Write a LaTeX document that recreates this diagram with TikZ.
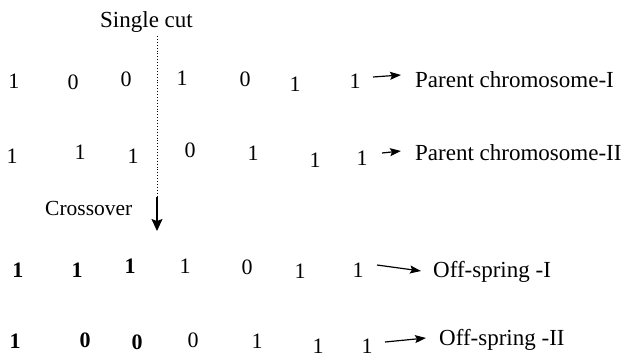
\documentclass[tikz,border=0pt]{standalone}
\usepackage{fontspec}
\setmainfont{Liberation Serif}
\usetikzlibrary{arrows.meta}
\begin{document}
\begin{tikzpicture}[x=1pt,y=-1pt,
  bit/.style={inner sep=0pt, anchor=base, font=\fontsize{22}{24}\selectfont},
  bbit/.style={bit, font=\fontsize{22}{24}\selectfont\bfseries},
  lbl/.style={inner sep=0pt, anchor=base west, font=\fontsize{23}{26}\selectfont},
  arr/.style={line width=1.2pt, -{Stealth[length=11pt,width=8pt,inset=2pt]}},
  cutarr/.style={line width=1.2pt, -{Stealth[length=12pt,width=11pt,inset=2pt]}},
  cutline/.style={line width=0.9pt, dotted}]
\useasboundingbox (0,0) rectangle (622,357);

% titles
\node[lbl] (single) at (100,27) {Single cut};
\node[lbl, font=\fontsize{21.5}{24}\selectfont] (cross) at (45,215) {Crossover};

% cut line
\coordinate (cutTop) at (157,36);
\coordinate (cutMid) at (157,197);
\coordinate (cutEnd) at (157,231);
\draw[cutline] (cutTop) -- (cutMid);
\draw[cutarr] (cutMid) -- (cutEnd);

% row 1
\node[bit] (a1) at (14,88) {1};
\node[bit] (a2) at (73,89) {0};
\node[bit] (a3) at (126,86) {0};
\node[bit] (a4) at (182,85) {1};
\node[bit] (a5) at (245,86) {0};
\node[bit] (a6) at (295,91) {1};
\node[bit] (a7) at (355,88) {1};
\node[lbl] (pa) at (415,87) {Parent chromosome-I};
\coordinate (pas) at (373,77);
\coordinate (pae) at (401,75);
\draw[arr] (pas) -- (pae);

% row 2
\node[bit] (b1) at (12,163) {1};
\node[bit] (b2) at (80,159) {1};
\node[bit] (b3) at (133,163) {1};
\node[bit] (b4) at (190,157) {0};
\node[bit] (b5) at (253,160) {1};
\node[bit] (b6) at (315,167) {1};
\node[bit] (b7) at (362,165) {1};
\node[lbl] (pb) at (415,160) {Parent chromosome-II};
\coordinate (pbs) at (382,153);
\coordinate (pbe) at (401,151);
\draw[arr] (pbs) -- (pbe);

% row 3
\node[bbit] (c1) at (18,277) {1};
\node[bbit] (c2) at (77,277) {1};
\node[bbit] (c3) at (130,273) {1};
\node[bit] (c4) at (185,273) {1};
\node[bit] (c5) at (247,274) {0};
\node[bit] (c6) at (300,278) {1};
\node[bit] (c7) at (358,277) {1};
\node[lbl] (oa) at (433,277) {Off-spring -I};
\coordinate (oas) at (377,265);
\coordinate (oae) at (421,271);
\draw[arr] (oas) -- (oae);

% row 4
\node[bbit] (d1) at (15,348) {1};
\node[bbit] (d2) at (85,347) {0};
\node[bbit] (d3) at (137,349) {0};
\node[bit] (d4) at (193,347) {0};
\node[bit] (d5) at (257,348) {1};
\node[bit] (d6) at (318,353) {1};
\node[bit] (d7) at (367,353) {1};
\node[lbl] (ob) at (439,345) {Off-spring -II};
\coordinate (obs) at (385,342);
\coordinate (obe) at (426,338);
\draw[arr] (obs) -- (obe);
\end{tikzpicture}
\end{document}
